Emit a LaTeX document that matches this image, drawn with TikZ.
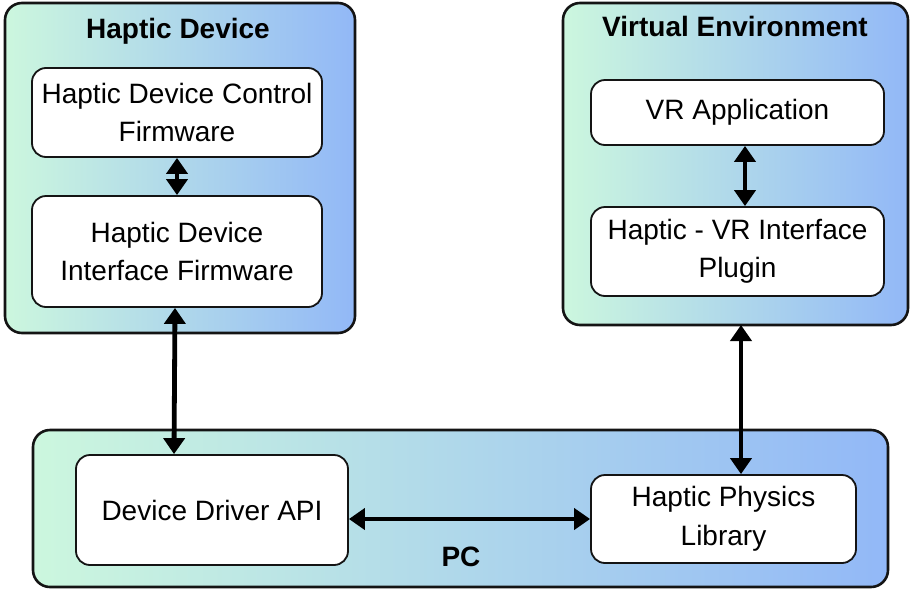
\documentclass[tikz,border=0pt]{standalone}
\usepackage{fontspec}
\setmainfont{Liberation Sans}
\usetikzlibrary{arrows.meta,shadings}
\definecolor{cgreen}{RGB}{204,247,222}
\definecolor{cmid}{RGB}{180,224,230}
\definecolor{cblue}{RGB}{146,184,247}
\definecolor{cline}{RGB}{20,20,20}
\begin{document}
\begin{tikzpicture}[x=1pt,y=-1pt,
  group/.style={draw=cline,line width=2.6pt,rounded corners=17pt,left color=cgreen,middle color=cmid,right color=cblue},
  inner/.style={draw=cline,line width=1.8pt,rounded corners=14pt,fill=white,align=center,font=\fontsize{28}{38.5}\selectfont},
  gtitle/.style={font=\fontsize{28}{32}\selectfont\bfseries},
  conn/.style={line width=4.8pt,draw=black,{Triangle[length=16pt,width=21pt]}-{Triangle[length=16pt,width=21pt]}}]
\useasboundingbox (0,0) rectangle (913,592);
% groups
\path[group] (5,3) rectangle (355,333);
\path[group] (563,3) rectangle (908,325);
\coordinate (veb) at (741,325);
\path[group] (33,430) rectangle (888,587);
\node[gtitle] (hdt) at (178,31) {Haptic Device};
\node[gtitle] (vet) at (735,26) {Virtual Environment};
\node[gtitle] (pct) at (461,557) {PC};
% inner boxes
\node[inner,minimum width=290pt,minimum height=89pt] (fw1) at (177,112.5) {Haptic Device Control\\Firmware};
\node[inner,minimum width=290pt,minimum height=111pt] (fw2) at (177,251.5) {Haptic Device\\Interface Firmware};
\node[inner,minimum width=293pt,minimum height=65pt] (vra) at (737.5,112.5) {VR Application};
\node[inner,minimum width=293pt,minimum height=89pt] (plg) at (737.5,251.5) {Haptic - VR Interface\\Plugin};
\node[inner,minimum width=272pt,minimum height=110pt] (dda) at (212,510) {Device Driver API};
\node[inner,minimum width=265pt,minimum height=88pt] (hpl) at (723.5,519) {Haptic Physics\\Library};
% connectors
\draw[conn] (fw1.south) -- (fw2.north);
\draw[conn] (vra.south -| 745,0) -- (plg.north -| 745,0);
\draw[conn] (fw2.south -| 175,0) -- (dda.north -| 174,0);
\draw[conn] (veb) -- (veb |- hpl.north);
\draw[conn] (dda.east |- 0,519) -- (hpl.west |- 0,519);
\end{tikzpicture}
\end{document}
